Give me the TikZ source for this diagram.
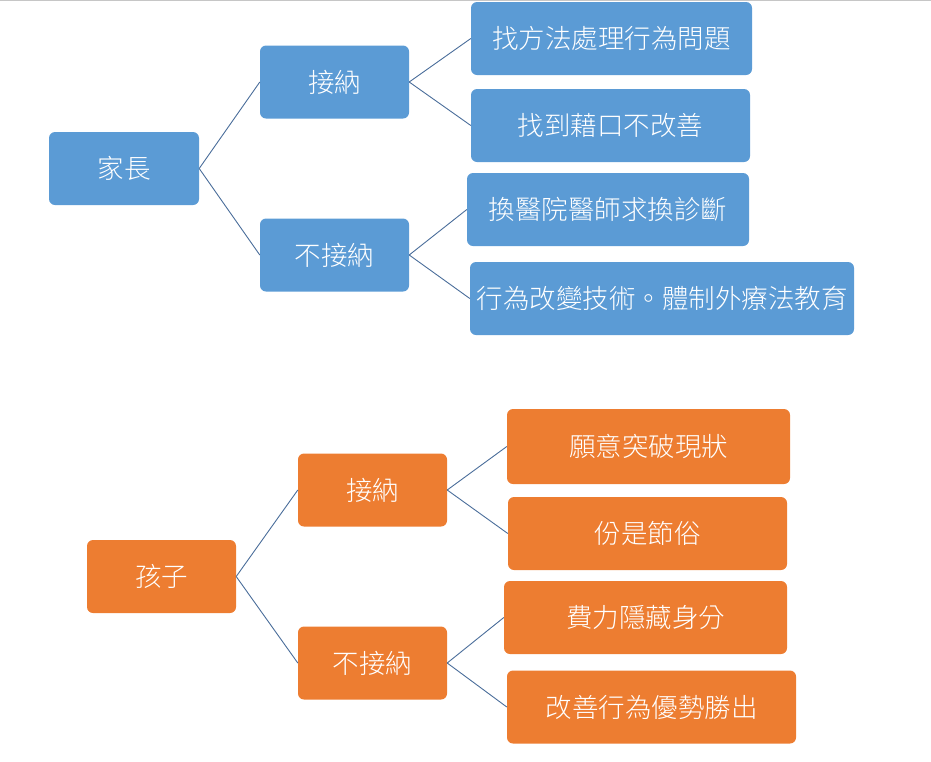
\documentclass[tikz,border=0pt]{standalone}
\usepackage{fontspec}
\setmainfont{Noto Sans CJK TC Light}
\usetikzlibrary{positioning}
\usepackage{xcolor}

\definecolor{boxblue}{HTML}{5B9BD5}
\definecolor{boxorange}{HTML}{ED7D31}
\definecolor{linkgray}{HTML}{4A6D9A}

\begin{document}
\begin{tikzpicture}[x=1pt, y=-1pt,
        box/.style={rounded corners=6pt, inner sep=0pt, minimum height=73pt, text=white, font=\fontsize{26.5}{30}\selectfont},
        bluebox/.style={box, fill=boxblue},
        orangebox/.style={box, fill=boxorange},
        link/.style={draw=linkgray, line width=0.9pt}
    ]
        \useasboundingbox (0,0) rectangle (931,761);
        \draw[gray!45, line width=1.2pt] (0,0.6) -- (931,0.6);

        % Parent tree
        \node[bluebox, minimum width=150pt] (parent) at (124,168.5) {家長};
        \node[bluebox, minimum width=149pt] (paccept) at (334.5,82) {接納};
        \node[bluebox, minimum width=149pt] (preject) at (334.5,255) {不接納};
        \node[bluebox, minimum width=281pt] (pmethod) at (611.5,38.5) {找方法處理行為問題};
        \node[bluebox, minimum width=279pt] (pexcuse) at (610.5,125.5) {找到藉口不改善};
        \node[bluebox, minimum width=282pt] (pdoctor) at (608,209.5) {換醫院醫師求換診斷};
        \node[bluebox, minimum width=384pt] (ptherapy) at (662,298.5) {行為改變技術。體制外療法教育};

        \draw[link] (parent.east) -- (paccept.west);
        \draw[link] (parent.east) -- (preject.west);
        \draw[link] (paccept.east) -- (pmethod.west);
        \draw[link] (paccept.east) -- (pexcuse.west);
        \draw[link] (preject.east) -- (pdoctor.west);
        \draw[link] (preject.east) -- (ptherapy.west);

        % Child tree
        \node[orangebox, minimum width=149pt] (child) at (161.5,576.5) {孩子};
        \node[orangebox, minimum width=149pt] (caccept) at (372.5,490) {接納};
        \node[orangebox, minimum width=149pt] (creject) at (372.5,663) {不接納};
        \node[orangebox, minimum width=283pt, minimum height=75pt] (cbreak) at (648.5,446.5) {願意突破現狀};
        \node[orangebox, minimum width=279pt] (cpart) at (647.5,533.5) {份是節俗};
        \node[orangebox, minimum width=283pt] (chide) at (645.5,617.5) {費力隱藏身分};
        \node[orangebox, minimum width=289pt] (cbetter) at (651.5,707) {改善行為優勢勝出};

        \draw[link] (child.east) -- (caccept.west);
        \draw[link] (child.east) -- (creject.west);
        \draw[link] (caccept.east) -- (cbreak.west);
        \draw[link] (caccept.east) -- (cpart.west);
        \draw[link] (creject.east) -- (chide.west);
        \draw[link] (creject.east) -- (cbetter.west);

    \end{tikzpicture}
\end{document}
